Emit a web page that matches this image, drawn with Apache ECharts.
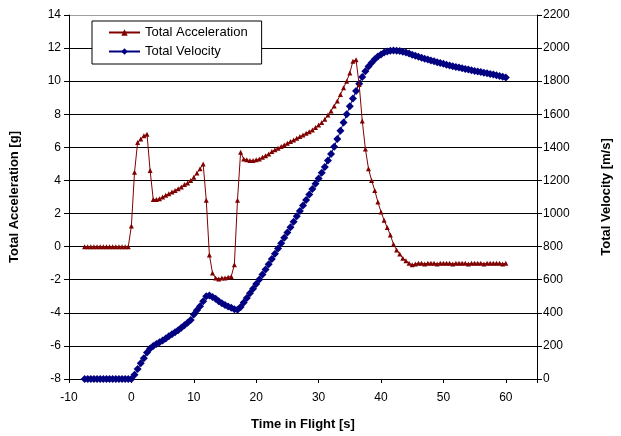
<!DOCTYPE html>
<html>
<head>
<meta charset="utf-8">
<script src="https://cdn.jsdelivr.net/npm/echarts@6/dist/echarts.min.js"></script>
<style>
    html, body { margin: 0; padding: 0; background: #fff; }
    #chart { width: 621px; height: 436px; }
</style>
</head>
<body>
<div id="chart"></div>
<script>

// =====================================================
// DATA
// =====================================================

const time_s = [
    -7.5, -7, -6.5, -6, -5.5, -5, -4.5, -4, -3.5, -3, -2.5, -2, -1.5, -1, -0.5,
    0, 0.5, 1, 1.5, 2, 2.5, 3, 3.5, 4, 4.5, 5, 5.5, 6, 6.5, 7, 7.5, 8, 8.5, 9, 9.5,
    10, 10.5, 11, 11.5, 12, 12.5, 13, 13.5, 14, 14.5, 15, 15.5, 16, 16.5, 17, 17.5,
    18, 18.5, 19, 19.5, 20, 20.5, 21, 21.5, 22, 22.5, 23, 23.5, 24, 24.5, 25, 25.5,
    26, 26.5, 27, 27.5, 28, 28.5, 29, 29.5, 30, 30.5, 31, 31.5, 32, 32.5, 33, 33.5,
    34, 34.5, 35, 35.5, 36, 36.5, 37, 37.5, 38, 38.5, 39, 39.5, 40, 40.5, 41, 41.5,
    42, 42.5, 43, 43.5, 44, 44.5, 45, 45.5, 46, 46.5, 47, 47.5, 48, 48.5, 49, 49.5,
    50, 50.5, 51, 51.5, 52, 52.5, 53, 53.5, 54, 54.5, 55, 55.5, 56, 56.5, 57, 57.5,
    58, 58.5, 59, 59.5, 60
];

const acceleration_g = [
    0, 0, 0, 0, 0, 0, 0, 0, 0, 0, 0, 0, 0, 0, 0,
    1.25, 4.5, 6.3, 6.5, 6.7, 6.8, 4.6, 2.85, 2.85, 2.9, 3.0, 3.1, 3.2, 3.3, 3.4, 3.5, 3.6, 3.75, 3.85, 4.0,
    4.2, 4.45, 4.7, 5.0, 2.8, -0.5, -1.6, -1.9, -1.95, -1.9, -1.9, -1.85, -1.8, -1.1, 2.8, 5.7,
    5.3, 5.25, 5.2, 5.2, 5.25, 5.3, 5.4, 5.5, 5.6, 5.75, 5.85, 5.95, 6.05, 6.15, 6.25, 6.35,
    6.45, 6.55, 6.65, 6.75, 6.85, 6.95, 7.05, 7.2, 7.35, 7.5, 7.7, 7.95, 8.2, 8.5, 8.8, 9.2,
    9.6, 10.0, 10.5, 11.2, 11.3, 9.8, 7.6, 5.9, 4.7, 4.0, 3.4, 2.7, 2.1, 1.6, 1.15, 0.7,
    0.15, -0.2, -0.45, -0.7, -0.85, -1.0, -1.1, -1.05, -1.0, -1.0, -1.05, -1.0, -1.0, -1.0, -1.05, -1.0,
    -1.0, -1.0, -1.0, -1.05, -1.0, -1.0, -1.0, -1.0, -1.05, -1.0, -1.0, -1.0, -1.0, -1.05, -1.0, -1.0,
    -1.0, -1.0, -1.0, -1.05, -1.0
];

const velocity_ms = [
    0, 0, 0, 0, 0, 0, 0, 0, 0, 0, 0, 0, 0, 0, 0,
    0, 25, 60, 95, 125, 160, 185, 200, 212, 222, 232, 245, 258, 270, 282, 295, 310, 325, 340, 357,
    390, 415, 440, 470, 500, 505, 495, 485, 470, 458, 448, 438, 430, 422, 418, 435,
    462, 490, 518, 546, 574, 602, 632, 662, 693, 725, 757, 789, 821, 853, 885, 917,
    950, 983, 1016, 1049, 1082, 1115, 1148, 1180, 1212, 1246, 1282, 1320, 1360, 1404, 1450, 1500,
    1550, 1600, 1648, 1695, 1740, 1785, 1825, 1860, 1888, 1912, 1932, 1949, 1962, 1973, 1980, 1984,
    1985, 1984, 1982, 1978, 1973, 1967, 1960, 1953, 1947, 1942, 1936, 1931, 1925, 1920, 1915, 1910,
    1905, 1900, 1895, 1891, 1886, 1882, 1878, 1874, 1870, 1866, 1862, 1858, 1855, 1851, 1848, 1844,
    1840, 1836, 1832, 1827, 1822
];

// =====================================================
// CHART
// =====================================================

const FONT = 'Arial, "Liberation Sans", sans-serif';

const chart = echarts.init(document.getElementById('chart'));

const acc_points = time_s.map((t, i) => [t, acceleration_g[i]]);
const vel_points = time_s.map((t, i) => [t, velocity_ms[i]]);

// top grid line is the grey plot border, the others are black
const split_colors = ['#000', '#000', '#000', '#000', '#000', '#000',
                      '#000', '#000', '#000', '#000', '#000', '#a0a0a0'];

chart.setOption({

    animation: false,
    textStyle: { fontFamily: FONT },

    grid: { left: 66, right: 78, top: 15, bottom: 50 },

    legend: {
        left: 92,
        top: 21,
        orient: 'vertical',
        backgroundColor: '#fff',
        borderColor: '#000',
        borderWidth: 1,
        padding: [5, 14, 6, 16],
        itemGap: 6,
        itemWidth: 31,
        itemHeight: 8,
        textStyle: { fontSize: 13, color: '#000', fontFamily: FONT },
        data: ['Total Acceleration', 'Total Velocity']
    },

    xAxis: {
        type: 'value',
        min: -10,
        max: 65,
        interval: 10,
        name: 'Time in Flight [s]',
        nameLocation: 'middle',
        nameGap: 39,
        nameTextStyle: { fontSize: 13, fontWeight: 'bold', color: '#000' },
        axisLine: { onZero: false, lineStyle: { color: '#000', width: 1 } },
        axisTick: { length: 4, inside: false, lineStyle: { color: '#000' } },
        axisLabel: {
            fontSize: 12, color: '#000', margin: 13,
            formatter: v => (v > 60 ? '' : String(v))
        },
        splitLine: { show: false }
    },

    yAxis: [
        {
            type: 'value',
            min: -8,
            max: 14,
            interval: 2,
            position: 'left',
            name: 'Total Acceleration [g]',
            nameLocation: 'middle',
            nameGap: 48,
            nameTextStyle: { fontSize: 13, fontWeight: 'bold', color: '#000' },
            axisLine: { show: true, onZero: false, lineStyle: { color: '#000', width: 1 } },
            axisTick: { show: true, length: 5, lineStyle: { color: '#000' } },
            axisLabel: { fontSize: 12, color: '#000', margin: 8 },
            splitLine: { show: true, lineStyle: { color: split_colors, width: 1 } }
        },
        {
            type: 'value',
            min: 0,
            max: 2200,
            interval: 200,
            position: 'right',
            name: 'Total Velocity [m/s]',
            nameLocation: 'middle',
            nameGap: 63,
            nameRotate: 90,
            nameTextStyle: { fontSize: 13, fontWeight: 'bold', color: '#000' },
            axisLine: { show: true, onZero: false, lineStyle: { color: '#000', width: 1 } },
            axisTick: { show: true, length: 5, lineStyle: { color: '#000' } },
            axisLabel: { fontSize: 12, color: '#000', margin: 6, formatter: v => String(v) },
            splitLine: { show: false }
        }
    ],

    series: [
        {
            name: 'Total Acceleration',
            type: 'line',
            yAxisIndex: 0,
            data: acc_points,
            symbol: 'triangle',
            symbolSize: 5,
            color: '#800000',
            lineStyle: { width: 1, color: '#800000' },
            itemStyle: { color: '#800000' },
            z: 3
        },
        {
            name: 'Total Velocity',
            type: 'line',
            yAxisIndex: 1,
            data: vel_points,
            symbol: 'diamond',
            symbolSize: 8,
            color: '#000080',
            lineStyle: { width: 1, color: '#000080' },
            itemStyle: { color: '#000080' },
            z: 2
        }
    ]
});

window.addEventListener('resize', function() {
    chart.resize();
});

</script>
</body>
</html>
